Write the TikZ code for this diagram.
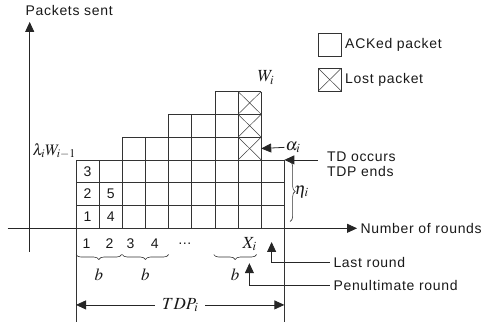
\documentclass[tikz,border=0pt]{standalone}
\usepackage{mathptmx}
\usepackage{fontspec}
\setmainfont{Liberation Sans}[LetterSpace=5]
\usepackage{tikz}
\usetikzlibrary{positioning,arrows.meta,decorations.pathreplacing}

\begin{document}
\begin{tikzpicture}[
    x=23.15pt, y=22.8pt,
    lbl/.style={font=\fontsize{14}{15}\selectfont, text=black!90},
    mth/.style={font=\fontsize{17}{18}\selectfont, text=black!90},
    gridl/.style={step=1, line width=0.8pt, black!80},
    crossl/.style={line width=0.5pt, black!75},
    cellbox/.style={minimum width=23.15pt, minimum height=22.8pt, inner sep=0pt},
    lost/.style={cellbox, path picture={\draw[crossl]
        (path picture bounding box.south west) -- (path picture bounding box.north east)
        (path picture bounding box.north west) -- (path picture bounding box.south east);}},
    arr/.style={-{Triangle[length=10pt, width=9pt]}, line width=0.8pt, black!85},
    dbl/.style={{Triangle[length=10pt, width=9pt]}-{Triangle[length=10pt, width=9pt]},
                line width=0.8pt, black!85},
    brc/.style={decorate, decoration={brace, amplitude=5pt}, line width=0.6pt, black!80},
    ln/.style={line width=0.8pt, black!80}
  ]
  \useasboundingbox (-3.283,-4.285) rectangle (17.71,10.013);

  % axes
  \coordinate (ya) at (-2,-1.03);
  \coordinate (yb) at (-2,9.05);
  \coordinate (xa) at (-2.95,0);
  \coordinate (xb) at (12.14,0);
  \draw[arr] (ya) -- (yb);
  \draw[arr] (xa) -- (xb);
  \node[lbl, anchor=west] (ylab) at (-2.33,9.57) {Packets sent};
  \node[lbl, anchor=west] (xlab) at (xb) {Number of rounds};

  % packets of the period
  \draw[gridl] (0,0) grid (2,3) (2,0) grid (4,4) (4,0) grid (6,5)
               (6,0) grid (8,6) (8,0) grid (9,3);
  \node[lost] (l1) at (7.5,3.5) {};
  \node[lost] (l2) at (7.5,4.5) {};
  \node[lost] (l3) at (7.5,5.5) {};

  \node[lbl] (p1) at (0.5,0.5) {1};
  \node[lbl] (p2) at (0.5,1.5) {2};
  \node[lbl] (p3) at (0.5,2.5) {3};
  \node[lbl] (p4) at (1.5,0.5) {4};
  \node[lbl] (p5) at (1.5,1.5) {5};

  \node[mth, font=\fontsize{16}{17}\selectfont, anchor=base east, inner sep=0pt] (lam)
    at (0,3.2) {$\lambda_i W_{i{-}1}$};
  \node[mth] (wi) at (8.2,6.6) {$W_i$};

  % legend
  \node[cellbox, draw, ln] (lgack) at (10.96,8.03) {};
  \node[lost, draw, ln] (lglost) at (10.96,6.52) {};
  \node[lbl, right=0pt of lgack] (tack) {ACKed packet};
  \node[lbl, right=0pt of lglost] (tlost) {Lost packet};

  % end of the period
  \coordinate (c8) at (8,3.5);
  \coordinate (c9) at (9,3);
  \coordinate (tdc) at (10.45,3);
  \node[mth, anchor=west, inner sep=1pt] (alpha) at (9.0,3.55) {$\alpha_i$};
  \draw[arr] (alpha.west) -- (c8);
  \draw[arr] (tdc) -- (c9);
  \node[lbl, anchor=west, align=left, inner sep=2pt] (td) at (10.75,2.8) {TD occurs\\TDP ends};
  \draw[brc] (9.25,2.93) -- (9.25,0.3) node[mth, midway, right=3pt, inner sep=1pt] (eta) {$\eta_i$};

  % rounds
  \node[lbl] (r1) at (0.45,-0.69) {1};
  \node[lbl] (r2) at (1.45,-0.69) {2};
  \node[lbl] (r3) at (2.35,-0.69) {3};
  \node[lbl] (r4) at (3.4,-0.69) {4};
  \node[lbl] (rd) at (4.7,-0.69) {\dots};
  \node[mth] (rx) at (7.5,-0.69) {$X_i$};
  \draw[brc, decoration={mirror}] (0,-1.15) -- (1.97,-1.15) node[mth, midway, below=11pt] (b1) {$b$};
  \draw[brc, decoration={mirror}] (2,-1.15) -- (4,-1.15) node[mth, midway, below=11pt] (b2) {$b$};
  \draw[brc, decoration={mirror}] (5.95,-1.15) -- (7.8,-1.15) node[mth, midway, below=11pt] (b3) {$b$};

  \coordinate (lrtip) at (8.45,-0.6);
  \coordinate (pntip) at (7.49,-1.53);
  \node[lbl, anchor=west] (lastr) at (10.97,-1.51) {Last round};
  \node[lbl, anchor=west] (penr) at (10.97,-2.52) {Penultimate round};
  \draw[arr] (lastr.west) -| (lrtip);
  \draw[arr] (penr.west) -| (pntip);

  % length of the period
  \coordinate (tdpa) at (0,-3.36);
  \coordinate (tdpb) at (9,-3.36);
  \draw[ln] (0,0) -- (0,-4.1);
  \draw[ln] (9,0) -- (9,-4.1);
  \draw[dbl] (tdpa) -- node[mth, fill=white, inner xsep=7pt] (tdp) {$TDP_i$} (tdpb);
\end{tikzpicture}
\end{document}
